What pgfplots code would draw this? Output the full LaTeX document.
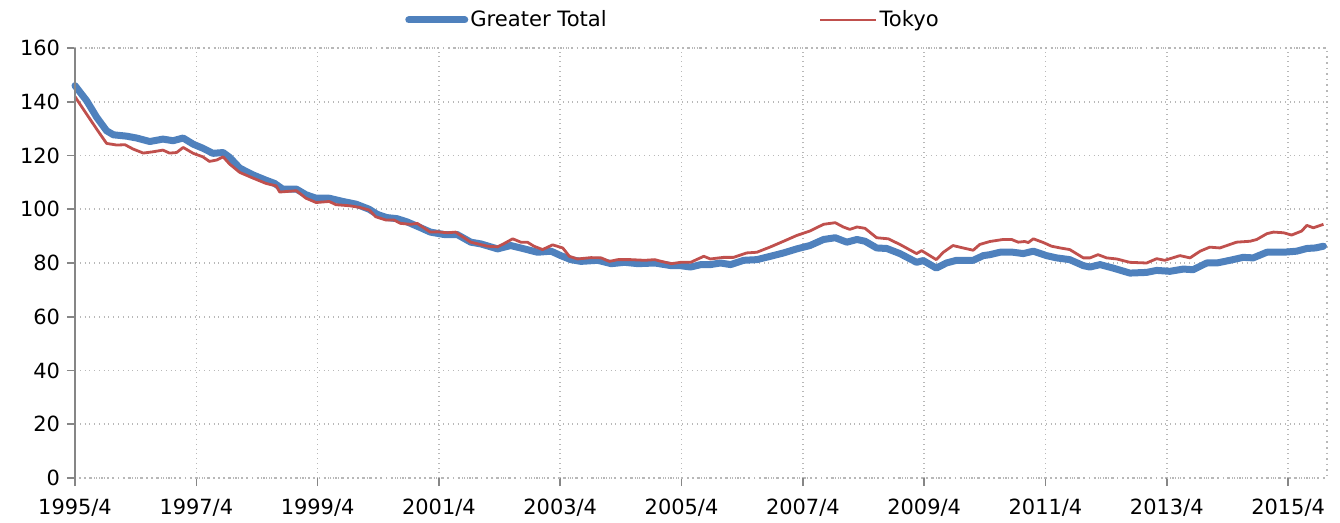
\documentclass[border=0pt]{standalone}
\usepackage{fontspec}
\setmainfont{DejaVu Sans}
\usepackage{pgfplots}
\pgfplotsset{compat=1.18}
\definecolor{gblue}{HTML}{4F81BD}
\definecolor{tred}{HTML}{C0504D}
\definecolor{axgray}{HTML}{868686}
\definecolor{gridgray}{HTML}{B8B8B8}
\begin{document}
\begin{tikzpicture}
\begin{axis}[
  name=ax,
  scale only axis,
  width=626bp, height=215bp,
  xmin=0, xmax=247.7, ymin=0, ymax=160,
  xtick={0,24,...,240},
  xticklabels={1995/4,1997/4,1999/4,2001/4,2003/4,2005/4,2007/4,2009/4,2011/4,2013/4,2015/4},
  ytick={0,20,...,160},
  /pgf/number format/assume math mode=true,
  ticklabel style={font=\fontsize{10.5}{12}\selectfont, black},
  xticklabel style={yshift=-3bp},
  grid=major,
  major grid style={gridgray, dotted, line width=0.8pt},
  axis line style={gridgray, dotted, line width=0.8pt},
  tick align=outside,
  xtick pos=left, ytick pos=left,
  major tick length=4bp,
  tick style={axgray, line width=0.8pt},
  legend columns=2,
  legend style={at={(0.5,1)}, yshift=14bp, xshift=-14bp, anchor=center, draw=none, fill=none,
    font=\fontsize{10.6}{12}\selectfont,
    /tikz/every even column/.append style={column sep=105bp},
    nodes={inner xsep=1bp}},
  legend cell align=left,
  legend image code/.code={\draw[#1] (0bp,0bp) -- (28bp,0bp);},
  clip=false,
]
\addplot[gblue, line width=3.5bp, line join=round, line cap=round] coordinates {
(0,146)(2.3,140.4)(4.3,134.2)(6.25,129.2)(7.6,127.7)(10.2,127.2)(12.2,126.5)(14.8,125.2)(17.4,126.1)(19.4,125.5)(21.4,126.5)(23.4,124.2)(25.3,122.7)(27.3,120.8)(29.3,121.1)(30.6,119.3)(32.6,115.3)(35.2,112.8)(37.8,110.8)(39.5,109.6)(41.1,107.5)(43.8,107.5)(45.7,105.4)(47.7,104.1)(50.3,104.1)(53,102.9)(55.6,101.9)(58.2,100.0)(59.8,98.1)(61.7,96.9)(63.7,96.5)(65.7,95.3)(68.4,93.1)(70.3,91.5)(73,90.6)(75.6,90.6)(78.3,87.75)(80.3,87.1)(83.6,85.25)(86.2,86.5)(88.9,85.25)(91.5,84)(94.2,84.4)(96.1,82.75)(98.1,81.25)(100.1,80.6)(103.4,81)(106.1,79.75)(108.7,80.25)(111.4,79.75)(114.7,80)(118,79)(119.8,79)(121.8,78.5)(123.8,79.4)(125.7,79.4)(127.7,80)(129.7,79.4)(132.3,81)(134.9,81.25)(137.6,82.5)(140.2,83.75)(142.8,85.25)(145.4,86.5)(148.1,88.75)(150.4,89.4)(152.7,87.75)(154.7,88.75)(156.3,88.1)(158.6,85.6)(160.6,85.4)(163.2,83.5)(166.5,80.25)(167.8,80.9)(170.4,78.1)(172.4,80)(174.4,81)(177.7,81)(179.7,82.75)(181,83.1)(183,84)(185.6,84)(187.6,83.5)(189.6,84.4)(192.2,82.75)(194.2,81.9)(196.8,81.25)(199.5,79)(200.8,78.5)(202.8,79.4)(205.4,78.1)(208.7,76.25)(212,76.5)(214,77.25)(216.6,76.9)(219.3,77.75)(221.2,77.5)(223.9,80)(225.9,80)(228.5,81)(231.1,82.1)(233.1,81.9)(235.8,84)(239.1,84)(241.7,84.4)(243.7,85.4)(245.4,85.6)(247,86.25)
};
\addlegendentry{Greater Total}
\addplot[tred, line width=1.4bp, line join=round] coordinates {
(0,141.9)(2.3,135.4)(4.3,129.8)(6.25,124.5)(8.2,123.9)(9.9,124.0)(11.5,122.4)(13.5,120.9)(15.5,121.4)(17.4,122.0)(18.7,120.9)(20.1,121.1)(21.4,123.0)(23.4,120.8)(25.3,119.5)(26.6,117.8)(28,118.3)(29.3,119.5)(30.6,116.8)(32.6,113.7)(35.2,111.6)(37.8,109.6)(39.8,108.7)(40.5,106.4)(43.8,106.9)(45.7,104.1)(47.7,102.5)(50.3,102.9)(51.6,101.7)(54.3,101.3)(56.3,100.7)(58.2,99.7)(59.5,97.2)(61.5,96.0)(63.1,96)(64.4,94.75)(66.4,94.4)(67.7,94.75)(69,93.1)(70.3,91.5)(71.7,91.6)(73.7,91.25)(75.3,91.5)(78.3,87.75)(81.6,86.25)(83.6,86)(84.9,87.25)(86.6,89)(88.2,87.75)(89.5,87.75)(90.8,86.25)(92.5,85)(94.5,86.75)(96.5,85.6)(97.8,82.5)(99.4,81.5)(102.1,82)(104.1,81.9)(105.7,80.6)(107.4,81.25)(110,81.25)(112.7,81)(114.7,81.25)(116,80.6)(118,79.75)(119.8,80.25)(121.8,80.25)(124.4,82.5)(125.7,81.5)(128.3,82.1)(130.3,82.1)(132.9,83.75)(134.9,84)(137.6,86)(140.2,88.1)(142.8,90.25)(145.4,91.9)(148.1,94.4)(150.4,95)(152,93.4)(153.3,92.5)(154.7,93.4)(156.3,92.9)(158.6,89.4)(160.9,89)(163.2,86.9)(166.5,83.5)(167.5,84.6)(170.4,81.25)(171.8,84)(173.7,86.5)(175.7,85.6)(177.7,84.75)(179,86.9)(181,88)(183.6,88.75)(185.3,88.75)(186.6,87.75)(187.9,88)(188.6,87.6)(189.6,89)(191.6,87.6)(193.2,86.25)(194.9,85.6)(196.8,85)(199.5,81.9)(200.8,81.9)(202.4,83.1)(204.1,81.9)(206.1,81.5)(208.7,80.25)(212,80)(214,81.6)(215.6,81)(218.6,82.75)(220.6,81.9)(222.6,84.4)(224.5,85.9)(226.5,85.6)(229.8,87.75)(232.5,88.1)(233.8,88.75)(235.8,90.9)(237.1,91.5)(239.1,91.25)(240.7,90.4)(242.7,91.9)(243.7,94)(245,93.1)(247,94.4)
};
\addlegendentry{Tokyo}
\draw[axgray, line width=1.2bp] (rel axis cs:0,0) -- (rel axis cs:0,1);
\end{axis}
\pgfresetboundingbox
\path (ax.south west) ++(-37.5bp,-22.5bp) rectangle ++(670bp,261.5bp);
\end{tikzpicture}
\end{document}
